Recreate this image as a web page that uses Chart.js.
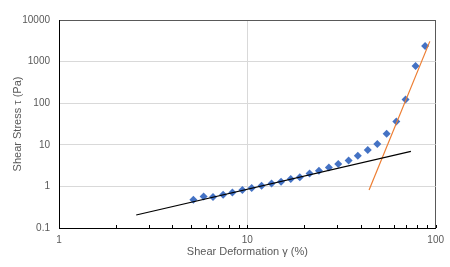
<!DOCTYPE html>
<html>
<head>
<meta charset="utf-8">
<script src="https://cdn.jsdelivr.net/npm/chart.js@4"></script>
<style>
  html, body { margin: 0; padding: 0; background: #fff; }
  #wrap { width: 450px; height: 267px; }
</style>
</head>
<body>
<div id="wrap"><canvas id="chart"></canvas></div>
<script>
/* Shear stress vs shear deformation, log-log */
const shearX   = [5.17, 5.86, 6.57, 7.44, 8.33, 9.41, 10.55, 11.9, 13.45, 15.1, 17.0, 19.0, 21.4,
                  24.0, 27.1, 30.4, 34.5, 38.6, 43.6, 49.0, 54.9, 61.8, 69.2, 78.2, 87.9];
const stressY  = [0.48, 0.575, 0.56, 0.63, 0.71, 0.82, 0.915, 1.04, 1.18, 1.30, 1.51, 1.65, 2.05,
                  2.39, 2.86, 3.45, 4.22, 5.47, 7.5, 10.5, 18.5, 36.5, 123, 784, 2370];
const lowFitX  = [2.57, 73.9];
const lowFitY  = [0.205, 6.94];
const highFitX = [44.3, 93.1];
const highFitY = [0.82, 3060];
const xTickValues = [1, 2, 3, 4, 5, 6, 7, 8, 9, 10, 20, 30, 40, 50, 60, 70, 80, 90, 100];
const yTickValues = [0.1, 1, 10, 100, 1000, 10000];

const toPts = (xs, ys) => xs.map((x, i) => ({ x, y: ys[i] }));
const isDecade = v => Math.abs(Math.log10(v) - Math.round(Math.log10(v))) < 1e-9;

const FONT = 'Liberation Sans';
const TXT = '#595959';

// small inward tick marks on the x axis
const minorTicks = {
  id: 'minorTicks',
  afterDraw(chart) {
    const { ctx, chartArea } = chart;
    const xs = chart.scales.x;
    ctx.save();
    ctx.strokeStyle = '#000';
    ctx.lineWidth = 1;
    xs.ticks.forEach(t => {
      const px = Math.round(xs.getPixelForValue(t.value)) + 0.5;
      ctx.beginPath();
      ctx.moveTo(px, chartArea.bottom);
      ctx.lineTo(px, chartArea.bottom - 3);
      ctx.stroke();
    });
    ctx.restore();
  }
};

new Chart(document.getElementById('chart'), {
  type: 'scatter',
  data: {
    datasets: [
      {
        data: toPts(lowFitX, lowFitY),
        showLine: true,
        borderColor: '#000',
        borderWidth: 1.2,
        pointRadius: 0,
      },
      {
        data: toPts(highFitX, highFitY),
        showLine: true,
        borderColor: '#ED7D31',
        borderWidth: 1.2,
        pointRadius: 0,
      },
      {
        data: toPts(shearX, stressY),
        pointStyle: 'rectRot',
        pointRadius: 4,
        backgroundColor: '#4472C4',
        borderColor: '#4472C4',
        borderWidth: 0,
      }
    ]
  },
  options: {
    responsive: true,
    maintainAspectRatio: false,
    animation: false,
    layout: { padding: { top: 20, right: 13, left: 0, bottom: 0 } },
    plugins: { legend: { display: false }, tooltip: { enabled: false } },
    scales: {
      x: {
        type: 'logarithmic',
        min: 1,
        max: 100,
        afterBuildTicks: s => { s.ticks = xTickValues.map(v => ({ value: v })); },
        afterFit: s => { s.height = 39; },
        border: { color: '#000', width: 1 },
        grid: {
          drawTicks: false,
          color: c => c.tick && c.tick.value === 100 ? '#595959'
                    : (c.tick && c.tick.value === 10 ? '#d9d9d9' : 'rgba(0,0,0,0)'),
        },
        ticks: {
          autoSkip: false,
          maxRotation: 0,
          padding: 6,
          color: TXT,
          font: { family: FONT, size: 10 },
          callback: v => isDecade(v) ? String(v) : '',
        },
        title: {
          display: true,
          text: 'Shear Deformation γ (%)',
          color: TXT,
          font: { family: FONT, size: 11 },
          padding: { top: 0, bottom: 8 },
        }
      },
      y: {
        type: 'logarithmic',
        min: 0.1,
        max: 10000,
        afterBuildTicks: s => { s.ticks = yTickValues.map(v => ({ value: v })); },
        afterFit: s => { s.width = 59; },
        border: { color: '#000', width: 1 },
        grid: {
          drawTicks: false,
          color: c => c.tick && c.tick.value === 10000 ? '#595959' : '#d9d9d9',
        },
        ticks: {
          autoSkip: false,
          padding: 9,
          color: TXT,
          font: { family: FONT, size: 10 },
          callback: v => isDecade(v) ? String(v) : '',
        },
        title: {
          display: true,
          text: 'Shear Stress τ (Pa)',
          color: TXT,
          font: { family: FONT, size: 11 },
          padding: { top: 11, bottom: 0 },
        }
      }
    }
  },
  plugins: [minorTicks]
});
</script>
</body>
</html>
